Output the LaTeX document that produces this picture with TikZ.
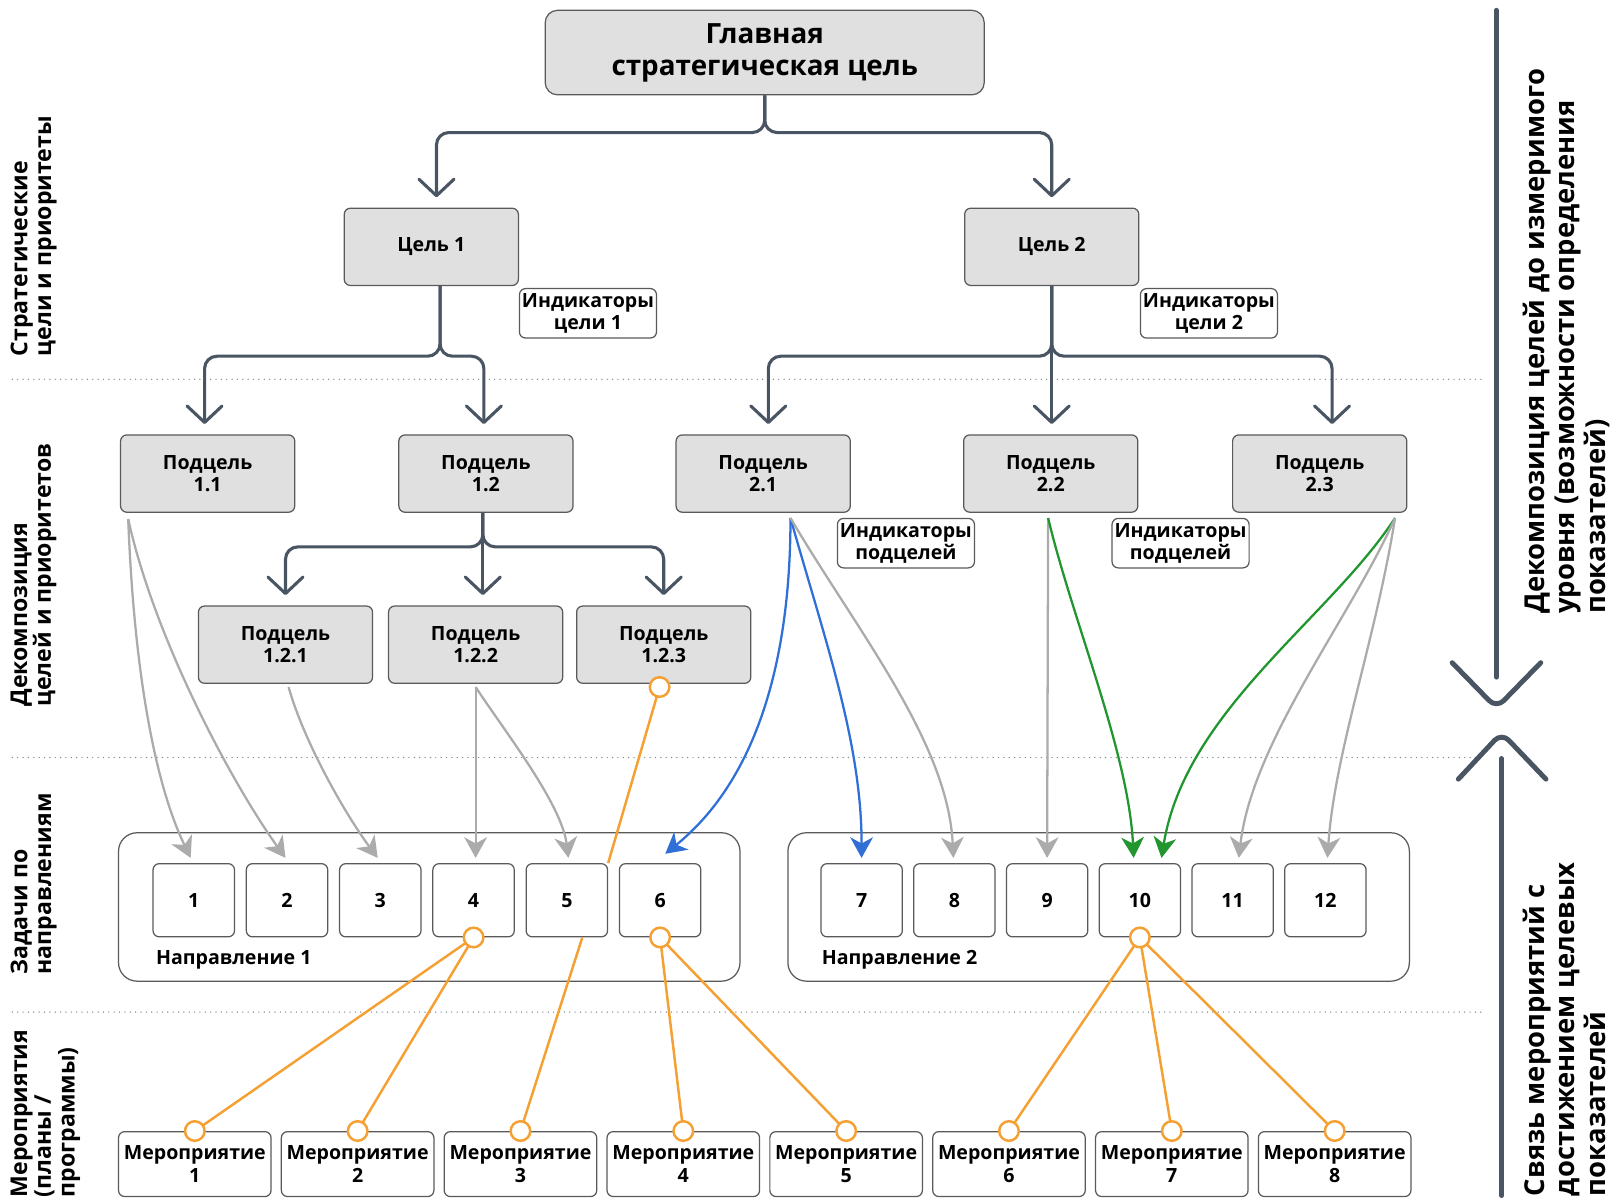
\documentclass[tikz,border=0pt]{standalone}
\usepackage{fontspec}
\setmainfont{Open Sans}
\usetikzlibrary{arrows.meta,calc}

\definecolor{treeline}{HTML}{4A5563}
\definecolor{boxline}{HTML}{5A5A5A}
\definecolor{boxfill}{HTML}{E0E0E0}
\definecolor{arrowgray}{HTML}{ABABAB}
\definecolor{blueline}{HTML}{2F6FD6}
\definecolor{greenline}{HTML}{22962E}
\definecolor{orangeline}{HTML}{F5A033}
\definecolor{dotgray}{HTML}{7E8794}

\newcommand{\boxfont}{\fontsize{9.5}{10.8}\selectfont\bfseries}
\newcommand{\titlefont}{\fontsize{13.5}{15.5}\selectfont\bfseries}
\newcommand{\sidefont}{\fontsize{11.2}{11.5}\selectfont\bfseries}
\newcommand{\rightfont}{\fontsize{13.3}{15}\selectfont\bfseries}

\begin{document}
\begin{tikzpicture}[x=0.5pt, y=-0.5pt,
  box/.style={draw=boxline, line width=0.6pt, rounded corners=3pt, align=center, inner sep=0pt, font=\boxfont},
  mainbox/.style={box, fill=boxfill, rounded corners=6pt, minimum width=213pt, minimum height=41pt, font=\titlefont},
  goalbox/.style={box, fill=boxfill, minimum width=84.5pt, minimum height=37.5pt},
  indbox/.style={box, fill=white, minimum width=66.5pt, minimum height=24pt},
  dirbox/.style={box, fill=white, rounded corners=9pt, minimum width=301.5pt, minimum height=72pt},
  taskbox/.style={box, fill=white, minimum width=39.5pt, minimum height=35.5pt},
  actbox/.style={box, fill=white, minimum width=74pt, minimum height=31.5pt},
  dirlabel/.style={inner sep=0pt, anchor=west, font=\boxfont},
  sidelabel/.style={rotate=90, align=left, inner sep=0pt, anchor=north west, font=\sidefont},
  rightlabel/.style={sidelabel, font=\rightfont},
  tree/.style={draw=treeline, line width=1.5pt, rounded corners=6pt, shorten >=5pt, -{Straight Barb[length=8pt,width=17pt,round]}},
  feed/.style={draw=arrowgray, line width=1.1pt, -{Stealth[length=10pt,width=11pt,inset=3pt]}},
  tie/.style={draw=orangeline, line width=1.2pt},
  knot/.style={draw=orangeline, fill=white, line width=1.2pt},
  sep/.style={draw=dotgray, line width=0.7pt, line cap=round, dash pattern=on 0pt off 2.6pt},
  bigline/.style={draw=treeline, line width=2.4pt, line cap=round, line join=round}]

\useasboundingbox (0,0) rectangle (1568,1164);

% level separators
\draw[sep] (12,368) -- (1440,368);
\draw[sep] (12,735) -- (1440,735);
\draw[sep] (12,982) -- (1440,982);

% goals
\node[mainbox] (main) at (742,51) {Главная\\стратегическая цель};
\node[goalbox] (goal1) at (418.5,239.5) {Цель 1};
\node[goalbox] (goal2) at (1020.5,239.5) {Цель 2};
\node[indbox] (ind1) at (570.5,304) {Индикаторы\\цели 1};
\node[indbox] (ind2) at (1173,304) {Индикаторы\\цели 2};

% subgoals
\node[goalbox] (sub11) at (201.5,459.5) {Подцель\\1.1};
\node[goalbox] (sub12) at (471.5,459.5) {Подцель\\1.2};
\node[goalbox] (sub21) at (740.5,459.5) {Подцель\\2.1};
\node[goalbox] (sub22) at (1019.5,459.5) {Подцель\\2.2};
\node[goalbox] (sub23) at (1280.5,459.5) {Подцель\\2.3};
\node[indbox] (ind21) at (879,527) {Индикаторы\\подцелей};
\node[indbox] (ind22) at (1145.5,527) {Индикаторы\\подцелей};
\node[goalbox] (sub121) at (277,625.5) {Подцель\\1.2.1};
\node[goalbox] (sub122) at (461.5,625.5) {Подцель\\1.2.2};
\node[goalbox] (sub123) at (644,625.5) {Подцель\\1.2.3};

% tree
\draw[tree] (main.south) -- ++(0,36) -| ($(goal1.north)+(5,0)$);
\draw[tree] (main.south) -- ++(0,36) -| (goal2);
\draw[tree] ($(goal1.south)+(8.5,0)$) -- ++(0,68) -| ($(sub11.north)+(-3,0)$);
\draw[tree] ($(goal1.south)+(8.5,0)$) -- ++(0,68) -| ($(sub12.north)+(-2,0)$);
\draw[tree] (goal2.south) -- ++(0,68) -| ($(sub21.north)+(5,0)$);
\draw[tree] (goal2.south) -- ++(0,68) -| ($(sub23.north)+(12,0)$);
\draw[tree] (goal2.south) -- (goal2.south |- sub22.north);
\draw[tree] ($(sub12.south)+(-3,0)$) -- ++(0,33) -| (sub121);
\draw[tree] ($(sub12.south)+(-3,0)$) -- ++(0,33) -| (sub123);
\draw[tree] ($(sub12.south)+(-3,0)$) -- ($(sub12.south |- sub122.north)+(-3,0)$);

% directions and tasks
\node[dirbox] (dir1) at (416.5,880) {};
\node[dirbox] (dir2) at (1066,880) {};
\node[dirlabel] (dir1lab) at (151,931) {Направление 1};
\node[dirlabel] (dir2lab) at (797,931) {Направление 2};
\foreach \i in {1,...,6}
  \node[taskbox] (t\i) at ({188+90.5*(\i-1)},873.5) {\i};
\foreach \i in {7,...,12}
  \node[taskbox] (t\i) at ({836+90*(\i-7)},873.5) {\i};

% activities
\foreach \k in {1,...,8}
  \node[actbox] (m\k) at ({189+158*(\k-1)},1129.5) {Мероприятие\\\k};

% subgoals to tasks
\draw[feed] ($(sub11.south west)+(8,6)$) .. controls (130,650) and (150,760) .. ($(t1.north)+(-3,-5)$);
\draw[feed] ($(sub11.south west)+(8,6)$) .. controls (150,620) and (225,760) .. ($(t2.north)+(-1.5,-5)$);
\draw[feed] ($(sub121.south)+(3,3)$) .. controls (295,720) and (335,790) .. ($(t3.north)+(-2.5,-5)$);
\draw[feed] ($(sub122.south)+(0,3)$) -- ($(t4.north)+(2,-5)$);
\draw[feed] ($(sub122.south)+(0,3)$) .. controls (490,710) and (545,780) .. ($(t5.north)+(1.5,-5)$);
\draw[feed, draw=blueline] ($(sub21.south)+(26.5,5)$) .. controls (767,650) and (730,760) .. ($(t6.north)+(5,-9)$);
\draw[feed, draw=blueline] ($(sub21.south)+(26.5,5)$) .. controls (800,620) and (836,720) .. ($(t7.north)+(0,-5)$);
\draw[feed] ($(sub21.south)+(26.5,5)$) .. controls (830,610) and (920,720) .. ($(t8.north)+(-1,-5)$);
\draw[feed] ($(sub22.south)+(-2.5,5)$) -- ($(t9.north)+(0,-5)$);
\draw[feed, draw=greenline] ($(sub22.south)+(-2.5,5)$) .. controls (1040,600) and (1095,730) .. ($(t10.north)+(-6,-5)$);
\draw[feed, draw=greenline] ($(sub23.south east)+(-12,5)$) .. controls (1290,600) and (1150,690) .. ($(t10.north)+(21,-5)$);
\draw[feed] ($(sub23.south east)+(-12,5)$) .. controls (1310,600) and (1215,720) .. ($(t11.north)+(6,-5)$);
\draw[feed] ($(sub23.south east)+(-12,5)$) .. controls (1335,620) and (1295,730) .. ($(t12.north)+(2,-5)$);

% tasks to activities
\draw[tie] ($(sub123.south)+(-4,3)$) -- (t5.north east);
\draw[tie] (t4.south) -- (m1.north);
\draw[tie] (t4.south) -- (m2.north);
\draw[tie] ($(t5.south)+(15,0)$) -- (m3.north);
\draw[tie] (t6.south) -- (m4.north);
\draw[tie] (t6.south) -- (m5.north);
\draw[tie] (t10.south) -- (m6.north);
\draw[tie] (t10.south) -- (m7.north);
\draw[tie] (t10.south) -- (m8.north);
\foreach \p in {t4.south, t6.south, t10.south, m1.north, m2.north, m3.north, m4.north, m5.north, m6.north, m7.north, m8.north}
  \draw[knot] (\p) circle (4.75pt);
\draw[knot] ($(sub123.south)+(-4,3)$) circle (4.75pt);

% level names
\node[sidelabel] (lev1) at (10,346) {Стратегические\\цели и приоритеты};
\node[sidelabel] (lev2) at (10,686) {Декомпозиция\\целей и приоритетов};
\node[sidelabel] (lev3) at (10,946) {Задачи по\\направлениям};
\node[sidelabel] (lev4) at (10,1162) {Мероприятия\\(планы /\\программы)};

% right side
\draw[bigline] (1452,10) -- (1452,657);
\draw[bigline, rounded corners=5pt] (1409,643) -- (1452,687) -- (1495,643);
\draw[bigline] (1457,736) -- (1457,1160);
\draw[bigline, rounded corners=5pt] (1415,756) -- (1457,711) -- (1500,756);
\node[rightlabel] (down) at (1477,596) {Декомпозиция целей до измеримого\\уровня (возможности определения\\показателей)};
\node[rightlabel] (up) at (1477,1161) {Связь мероприятий с\\достижением целевых\\показателей};
\end{tikzpicture}
\end{document}
